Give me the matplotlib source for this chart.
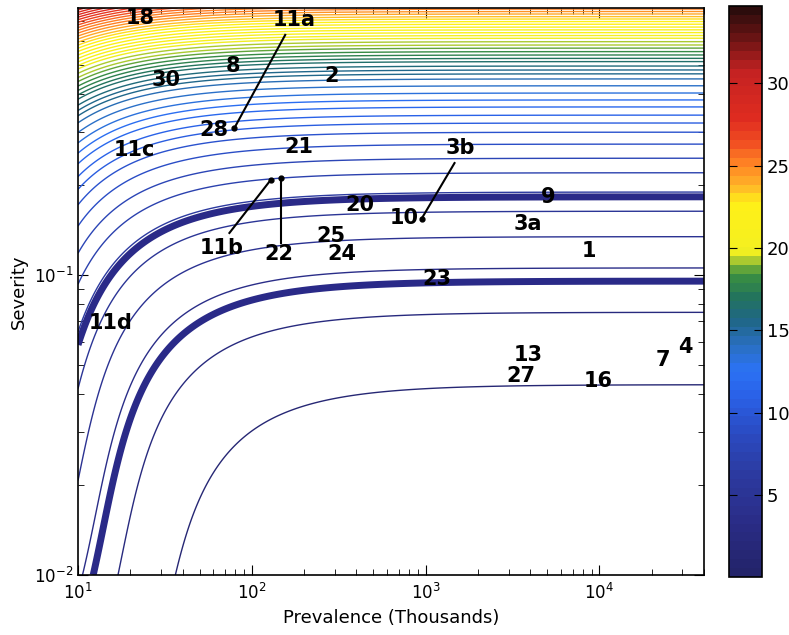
import numpy as np
import matplotlib
matplotlib.use("Agg")
import matplotlib.pyplot as plt
from matplotlib.colors import LinearSegmentedColormap, ListedColormap, Normalize
from matplotlib.cm import ScalarMappable

# axis limits
prev_lim = [10, 4e4]
sev_lim = [0.01, 0.776]

thin_levels = [1.40, 2.44, 3.43, 4.36, 5.30, 6.14, 7.12, 7.96, 8.87, 9.72,
               10.43, 11.08, 11.80, 12.45, 13.13, 13.88, 14.63, 15.21, 15.67, 16.15,
               16.71, 17.13, 17.58, 18.04, 18.53, 18.98, 19.47, 19.99, 20.41, 20.87,
               21.32, 21.78, 22.26, 22.72, 23.17, 23.60, 24.08, 24.54, 25.00, 25.45,
               25.90, 26.35, 26.80, 27.25, 27.70, 28.15, 28.60, 29.05, 29.50, 29.95]
thick_levels = [3.10, 5.92]

cbar_max = 34.7
cbar_ticks = [5, 10, 15, 20, 25, 30]

# point labels: text, prevalence, severity
labels = [
    ("18", 22.7, 0.719), ("11a", 175, 0.708), ("8", 78.3, 0.497),
    ("30", 31.9, 0.447), ("2", 289, 0.461), ("28", 60.1, 0.304),
    ("11c", 21.2, 0.261), ("21", 187, 0.267), ("3b", 1585, 0.265),
    ("10", 748, 0.155), ("9", 5070, 0.182), ("20", 419, 0.171),
    ("3a", 3890, 0.148), ("1", 8710, 0.120), ("25", 286, 0.135),
    ("24", 330, 0.117), ("11b", 66.8, 0.123), ("22", 144, 0.117),
    ("23", 1156, 0.097), ("11d", 15.5, 0.0692), ("13", 3890, 0.0540),
    ("27", 3550, 0.0462), ("16", 9770, 0.0443), ("7", 23100, 0.052),
    ("4", 31300, 0.0575),
]

# leader lines: dot end (P, S) -> label end (P, S)
leaders = [
    (79.4, 0.309, 155.6, 0.631),
    (129, 0.208, 74.3, 0.138),
    (146.6, 0.210, 146.6, 0.128),
    (948, 0.154, 1466, 0.236),
]

# colour map as seen on the colour bar
cmap_stops = [
    (0.0, "#23246a"), (3.0, "#2a2c86"), (6.0, "#2c3aa0"), (9.0, "#2a4ec8"),
    (11.0, "#2a62e8"), (12.5, "#2b72f4"), (14.0, "#2a6fc0"), (15.5, "#1f6686"),
    (17.0, "#23745c"), (18.5, "#3a9040"), (19.3, "#a8c830"), (19.9, "#f4f020"),
    (22.8, "#fff018"), (23.8, "#ffb828"), (25.2, "#ff8424"), (26.5, "#f25222"),
    (28.0, "#e02c20"), (31.0, "#c42222"), (33.0, "#6a1414"), (34.7, "#2c0c0c"),
]

thick_color = "#2a2a88"

# prevalence / severity response surface
SCALE, GAIN, KNEE = 32.5, 1.3, 0.03


def build_cmap():
    pos = [v / cbar_max for v, _ in cmap_stops]
    cols = [c for _, c in cmap_stops]
    smooth = LinearSegmentedColormap.from_list("bar", list(zip(pos, cols)))
    return ListedColormap(smooth(np.linspace(0, 1, 64)))


def main():
    plt.rcParams["font.family"] = "DejaVu Sans"
    cmap = build_cmap()
    norm = Normalize(0, cbar_max)

    P = np.logspace(np.log10(prev_lim[0]), np.log10(prev_lim[1]), 700)
    S = np.logspace(np.log10(sev_lim[0]), np.log10(sev_lim[1]), 700)
    PP, SS = np.meshgrid(P, S)
    Z = SCALE * (SS + GAIN * SS / (PP * SS + KNEE))

    fig = plt.figure(figsize=(7.89, 6.35), dpi=100)
    ax = fig.add_axes([0.0989, 0.0945, 0.7935, 0.893])
    cax = fig.add_axes([0.924, 0.0913, 0.0418, 0.899])

    ax.contour(PP, SS, Z, levels=thin_levels, cmap=cmap, norm=norm, linewidths=1.0)
    ax.contour(PP, SS, Z, levels=thick_levels, colors=thick_color, linewidths=5.0)

    for x0, y0, x1, y1 in leaders:
        ax.plot([x0, x1], [y0, y1], color="black", lw=1.5)
        ax.plot(x0, y0, "o", color="black", ms=3.5)

    for txt, x, y in labels:
        ax.text(x, y, txt, fontsize=15, fontweight="bold", ha="center", va="center")

    ax.set_xscale("log")
    ax.set_yscale("log")
    ax.set_xlim(prev_lim)
    ax.set_ylim(sev_lim)
    ax.tick_params(which="both", direction="in", top=True, right=True, labelsize=12)
    ax.tick_params(which="major", length=7)
    ax.tick_params(which="minor", length=4)
    ax.tick_params(axis="x", pad=6)
    ax.set_xlabel("Prevalence (Thousands)", fontsize=13)
    ax.set_ylabel("Severity", fontsize=13)
    for sp in ax.spines.values():
        sp.set_linewidth(1.2)

    cb = fig.colorbar(ScalarMappable(norm=norm, cmap=cmap), cax=cax, ticks=cbar_ticks)
    cb.ax.tick_params(direction="in", left=True, right=True, length=6, labelsize=13)
    cb.outline.set_linewidth(1.2)

    fig.savefig("out.png", dpi=100)


if __name__ == "__main__":
    main()
